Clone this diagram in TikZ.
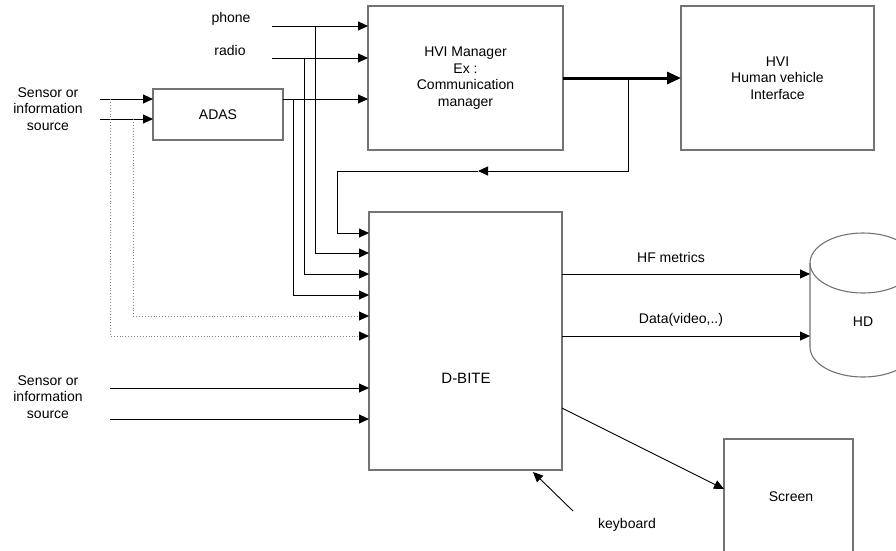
\documentclass[tikz,border=0pt]{standalone}
\usepackage{fontspec}
\setmainfont{Liberation Sans}
\usetikzlibrary{arrows.meta}
\definecolor{boxgray}{gray}{0.45}
\begin{document}
\begin{tikzpicture}[x=1pt,y=-1pt,
  box/.style={draw=boxgray, line width=1.1pt, inner sep=0pt, outer sep=0pt, align=center, font=\fontsize{14}{16.5}\selectfont},
  lbl/.style={inner sep=0pt, align=center, font=\fontsize{14}{16.5}\selectfont},
  tip/.style={-{Triangle[length=10pt,width=9pt,color=black,fill=black]}},
  arr/.style={tip, line width=0.9pt},
  wire/.style={line width=0.9pt},
  dotarr/.style={tip, dotted, draw=gray, line width=0.9pt},
  thick arr/.style={-{Triangle[length=14pt,width=12pt]}, line width=3pt}]
\useasboundingbox (0,0) rectangle (896,550);
\clip (0,0) rectangle (896,550);
\fill[white] (0,0) rectangle (896,550);

% boxes
\node[box, minimum width=195pt, minimum height=144pt] (mgr) at (465.5,78) {HVI Manager\\Ex :\\Communication\\manager};
\node[box, minimum width=193pt, minimum height=144pt] (hvi) at (777.5,78) {HVI\\Human vehicle\\Interface};
\node[box, minimum width=130pt, minimum height=51pt] (adas) at (218,114.5) {ADAS};
\node[box, minimum width=193pt, minimum height=258pt] (dbite) at (465.5,341) {};
\node[lbl, font=\fontsize{15}{18}\selectfont] (dbitetxt) at (466,378) {D-BITE};
\node[box, minimum width=129pt, minimum height=125pt] (screen) at (788.5,501.5) {};
\node[lbl] (screentxt) at (791,497) {Screen};

% HD cylinder
\draw[boxgray, line width=1.1pt] (863,263) ellipse [x radius=53, y radius=30];
\draw[boxgray, line width=1.1pt] (810,263) -- (810,347)
  .. controls (810,363.6) and (833.7,377) .. (863,377)
  .. controls (892.3,377) and (916,363.6) .. (916,347) -- (916,263);
\node[lbl] (hd) at (863,322) {HD};

% labels
\node[lbl] (phone) at (231,19) {phone};
\node[lbl] (radio) at (230,50) {radio};
\node[lbl] (sens1) at (48,109) {Sensor or\\information\\source};
\node[lbl] (sens2) at (48,397) {Sensor or\\information\\source};
\node[lbl] (hf) at (671,257) {HF metrics};
\node[lbl] (data) at (681,320) {Data(video,..)};
\node[lbl] (kbd) at (627,525) {keyboard};

% coordinates
\coordinate (ph) at (272,26);
\coordinate (ra) at (272,58);
\coordinate (ao) at (283,99);
\coordinate (s1a) at (100,99);
\coordinate (s1b) at (100,119);
\coordinate (s2a) at (110,388);
\coordinate (s2b) at (110,419);
\coordinate (fb) at (628,78);
\coordinate (fbm) at (478,171);
\coordinate (hdl1) at (810,274);
\coordinate (hdl2) at (810,336);
\coordinate (scr) at (724,489);
\coordinate (scrs) at (562,408);
\coordinate (kbs) at (573,511);
\coordinate (kbe) at (533,472);

% thick arrow
\draw[thick arr] (mgr.east) -- (hvi.west);

% feedback
\draw[arr] (fb) |- (fbm);
\draw[wire] (fbm) -- (337,171);
\draw[arr] (337,171) |- (dbite.west |- 0,233);

% inputs to manager
\draw[arr] (ph) -- (mgr.west |- ph);
\draw[arr] (ra) -- (mgr.west |- ra);
\draw[arr] (ao) -- (mgr.west |- ao);

% branches to D-BITE
\draw[arr] (315,26) |- (dbite.west |- 0,253);
\draw[arr] (304,58) |- (dbite.west |- 0,274);
\draw[arr] (293,99) |- (dbite.west |- 0,295);

% sensors to ADAS
\draw[arr] (s1a) -- (adas.west |- s1a);
\draw[arr] (s1b) -- (adas.west |- s1b);

% dotted
\draw[dotarr] (133,119) |- (dbite.west |- 0,316);
\draw[dotarr] (110,99) |- (dbite.west |- 0,336);

% lower sensors
\draw[arr] (s2a) -- (dbite.west |- s2a);
\draw[arr] (s2b) -- (dbite.west |- s2b);

% outputs
\draw[arr] (dbite.east |- hdl1) -- (hdl1);
\draw[arr] (dbite.east |- hdl2) -- (hdl2);
\draw[arr] (scrs) -- (scr);
\draw[arr] (kbs) -- (kbe);
\end{tikzpicture}
\end{document}
